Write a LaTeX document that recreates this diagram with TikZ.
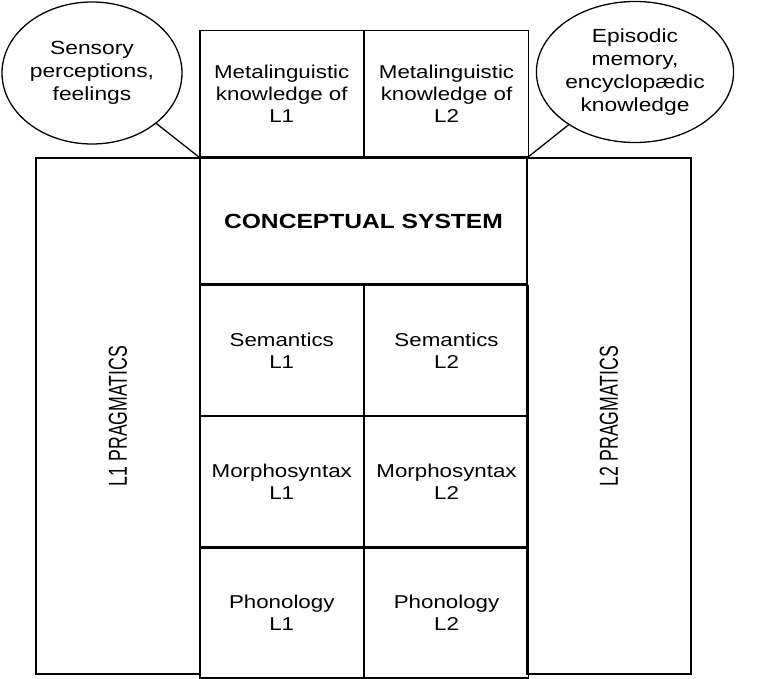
\documentclass[tikz,border=0pt]{standalone}
\usepackage{fontspec}
\setmainfont{Liberation Sans}[FakeStretch=1.2]
\newfontfamily\narrowfont{Liberation Sans}[FakeStretch=0.68]
\usepackage{tikz}
\usetikzlibrary{positioning,shapes.geometric}

\begin{document}
\begin{tikzpicture}[x=1pt, y=-1pt, line width=1.3pt,
    cell/.style={draw, rectangle, inner sep=0pt, align=center,
        minimum width=163.5pt, minimum height=130pt,
        font=\fontsize{18.6}{22}\selectfont},
    bubble/.style={draw, ellipse, inner sep=0pt, align=center,
        font=\fontsize{19}{23}\selectfont},
    pragbox/.style={draw, rectangle, inner sep=0pt, rotate=90,
        minimum width=516pt, minimum height=164pt,
        font=\narrowfont\fontsize{26}{26}\selectfont}]
    \useasboundingbox (0,0) rectangle (782,679);

    % Pragmatics columns
    \node[pragbox] (prag1) at (118,416) {L1 PRAGMATICS};
    \node[pragbox] (prag2) at (609,416) {L2 PRAGMATICS};

    % Conceptual system and metalinguistic knowledge
    \node[cell, minimum width=327pt, minimum height=126pt,
        font=\fontsize{20.5}{24}\selectfont\bfseries] (concept) at (363.5,221) {CONCEPTUAL SYSTEM};
    \node[cell, minimum height=126pt, above right=0pt and 0pt of concept.north west] (meta1) {Metalinguistic\\knowledge of\\L1};
    \node[cell, minimum height=126pt, right=0pt of meta1] (meta2) {Metalinguistic\\knowledge of\\L2};

    % Language levels
    \node[cell, below right=0pt and 0pt of concept.south west] (sem1) {Semantics\\L1};
    \node[cell, right=0pt of sem1] (sem2) {Semantics\\L2};
    \node[cell, below=0pt of sem1] (morph1) {Morphosyntax\\L1};
    \node[cell, below=0pt of sem2] (morph2) {Morphosyntax\\L2};
    \node[cell, below=0pt of morph1] (phon1) {Phonology\\L1};
    \node[cell, below=0pt of morph2] (phon2) {Phonology\\L2};

    % Bubbles
    \node[bubble, minimum width=180pt, minimum height=142pt] (senses) at (92,73) {Sensory\\perceptions,\\feelings};
    \node[bubble, minimum width=178pt, minimum height=141pt] (episodic) at (635,72) {Episodic\\memory,\\encyclopædic\\knowledge};
    \draw (senses) -- (concept.north west);
    \draw (episodic) -- (concept.north east);
\end{tikzpicture}
\end{document}
